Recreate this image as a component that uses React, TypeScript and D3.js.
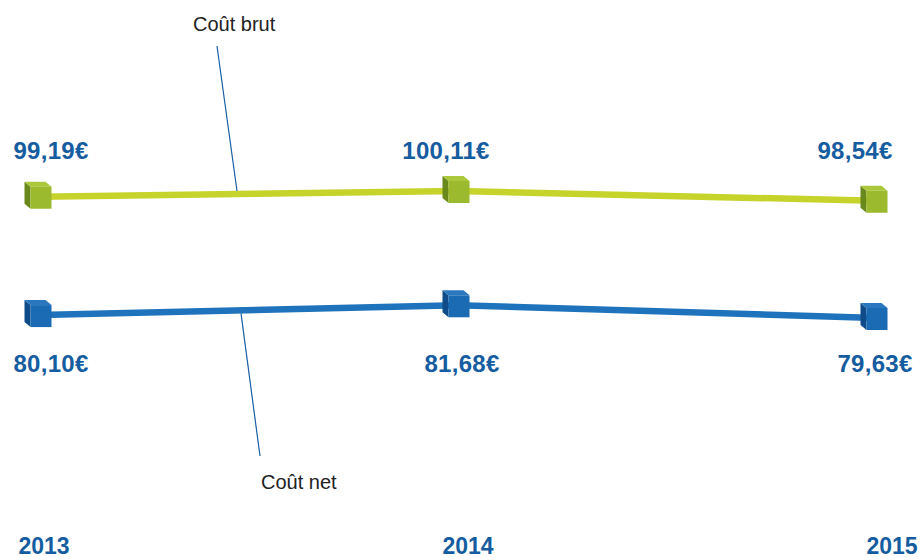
import React from "react";
import * as d3 from "d3";

const years = ["2013", "2014", "2015"];
const coutBrut = [99.19, 100.11, 98.54];
const coutNet = [80.1, 81.68, 79.63];
const brutLabels = ["99,19€", "100,11€", "98,54€"];
const netLabels = ["80,10€", "81,68€", "79,63€"];
const seriesNames = ["Coût brut", "Coût net"];

const W = 921;
const H = 560;

const FONT = "'Liberation Sans', Arial, Helvetica, sans-serif";
const LABEL_BLUE = "#155ca0";

const brutStyle = { line: "#c6d32b", front: "#9cba2e", left: "#6a891c", top: "#abc83c" };
const netStyle = { line: "#1f73bc", front: "#1b6bb4", left: "#0f4b88", top: "#2c78c0" };

const brutLabelDx = [11, -12, -21];
const netLabelDx = [11, 4, -1];

function Cube({ cx, cy, s }: { cx: number; cy: number; s: { front: string; left: string; top: string } }) {
  const w = 21, h = 22, dx = 6, dy = 5;
  const x0 = cx - w / 2 + 1, y0 = cy - h / 2 + 1;
  const left = `${x0},${y0} ${x0 - dx},${y0 - dy} ${x0 - dx},${y0 + h - dy} ${x0},${y0 + h}`;
  const top = `${x0},${y0} ${x0 - dx},${y0 - dy} ${x0 + w - dx},${y0 - dy} ${x0 + w},${y0}`;
  return (
    <g>
      <polygon points={left} fill={s.left} />
      <polygon points={top} fill={s.top} />
      <rect x={x0} y={y0} width={w} height={h} fill={s.front} />
    </g>
  );
}

export default function App() {
  const x = d3.scalePoint<string>().domain(years).range([40, 876]);
  const yearX = d3.scalePoint<string>().domain(years).range([44, 892]);
  const y = d3.scaleLinear().domain([70, 110]).range([377.7, 129.7]);

  const line = d3
    .line<number>()
    .x((_, i) => x(years[i]) as number)
    .y((v) => y(v));

  const interp = (vals: number[], px: number) => {
    const x0 = x(years[0]) as number, x1 = x(years[1]) as number;
    const t = (px - x0) / (x1 - x0);
    return y(vals[0] + (vals[1] - vals[0]) * t);
  };

  const brutLeaderX = 237;
  const netLeaderX = 241;

  return (
    <svg width={W} height={H} style={{ position: "absolute", left: 0, top: 0, background: "#fff" }}>
      <path d={line(coutBrut) || ""} fill="none" stroke={brutStyle.line} strokeWidth={6.5} />
      <path d={line(coutNet) || ""} fill="none" stroke={netStyle.line} strokeWidth={6.5} />

      <line x1={217} y1={46} x2={brutLeaderX} y2={interp(coutBrut, brutLeaderX) - 3} stroke="#1a5fa8" strokeWidth={1.2} />
      <line x1={netLeaderX} y1={interp(coutNet, netLeaderX) + 3} x2={260} y2={456} stroke="#1a5fa8" strokeWidth={1.2} />

      <text x={193} y={31} fontFamily={FONT} fontSize={20} fill="#222">{seriesNames[0]}</text>
      <text x={261} y={489} fontFamily={FONT} fontSize={20} fill="#222">{seriesNames[1]}</text>

      {coutBrut.map((v, i) => (
        <Cube key={"b" + i} cx={x(years[i]) as number} cy={y(v)} s={brutStyle} />
      ))}
      {coutNet.map((v, i) => (
        <Cube key={"n" + i} cx={x(years[i]) as number} cy={y(v)} s={netStyle} />
      ))}

      {brutLabels.map((t, i) => (
        <text key={"bl" + i} x={(x(years[i]) as number) + brutLabelDx[i]} y={159} textAnchor="middle"
          fontFamily={FONT} fontWeight="bold" fontSize={24} letterSpacing={0.3} fill={LABEL_BLUE}>{t}</text>
      ))}
      {netLabels.map((t, i) => (
        <text key={"nl" + i} x={(x(years[i]) as number) + netLabelDx[i]} y={372} textAnchor="middle"
          fontFamily={FONT} fontWeight="bold" fontSize={24} letterSpacing={0.3} fill={LABEL_BLUE}>{t}</text>
      ))}

      {years.map((t) => (
        <text key={t} x={yearX(t) as number} y={554} textAnchor="middle"
          fontFamily={FONT} fontWeight="bold" fontSize={23} fill={LABEL_BLUE}>{t}</text>
      ))}
    </svg>
  );
}
